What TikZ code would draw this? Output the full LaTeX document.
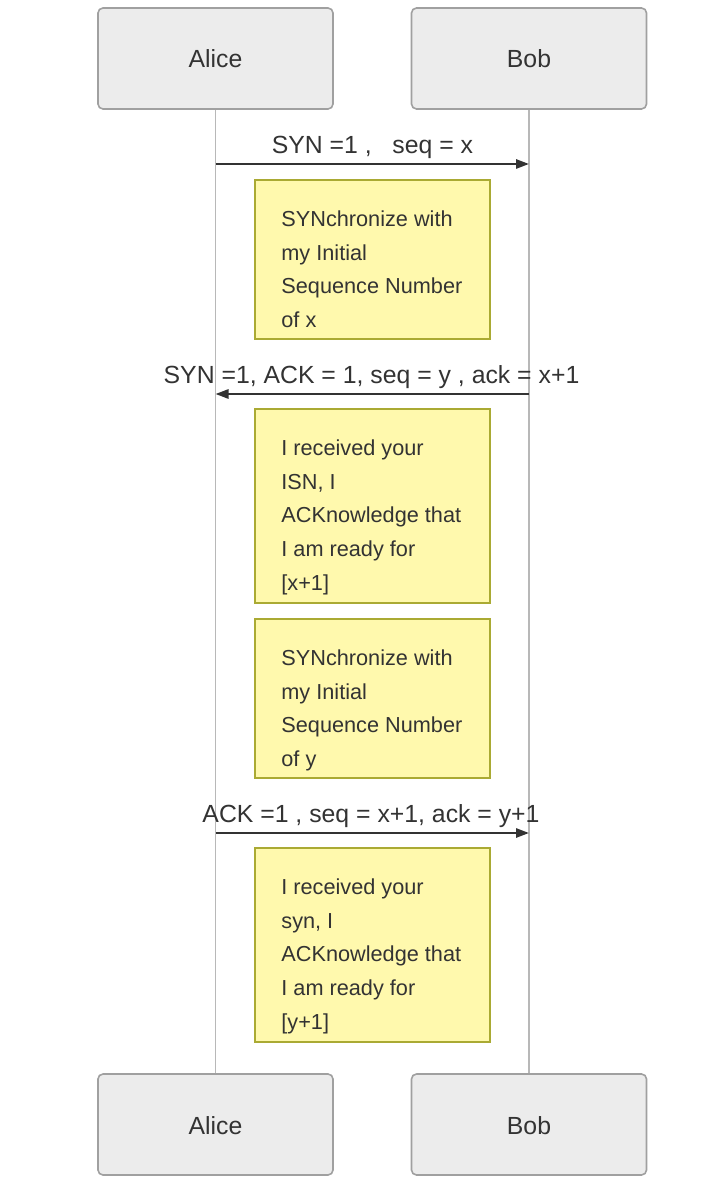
\documentclass[tikz,border=0pt]{standalone}
\usepackage{fontspec}
\setmainfont{Liberation Sans}
\usetikzlibrary{arrows.meta}
\definecolor{actfill}{HTML}{ECECEC}
\definecolor{actdraw}{HTML}{A0A0A0}
\definecolor{notefill}{HTML}{FFF9AD}
\definecolor{notedraw}{HTML}{AAAA33}
\definecolor{txt}{HTML}{333333}
\definecolor{life}{HTML}{B8B8B8}
\tikzset{
  actor/.style={draw=actdraw, fill=actfill, line width=0.8pt, rounded corners=2.5pt,
    minimum width=117.5pt, minimum height=50.5pt, inner sep=0pt},
  actortext/.style={anchor=base, font=\fontsize{12.4}{15}\selectfont, text=txt, inner sep=0pt},
  msgtext/.style={anchor=base, font=\fontsize{12.4}{15}\selectfont, text=txt, inner sep=0pt},
  notebox/.style={draw=notedraw, fill=notefill, line width=0.8pt, minimum width=117.5pt, inner sep=0pt},
  notetext/.style={anchor=north west, align=left, font=\fontsize{10.85}{16.8}\selectfont, text=txt, inner sep=0pt},
  lifeline/.style={draw=life, line width=0.7pt},
  msg/.style={draw=txt, line width=1.1pt, -{Triangle[length=6.5pt,width=4.6pt]}},
}
\begin{document}
\begin{tikzpicture}[x=0.5pt,y=-0.5pt]
\useasboundingbox (0,0) rectangle (720,1186);
% actors
\node[actor] (aliceT) at (215.5,58.5) {};
\node[actor] (bobT) at (529,58.5) {};
\node[actor] (aliceB) at (215.5,1124.5) {};
\node[actor] (bobB) at (529,1124.5) {};
% lifelines
\draw[lifeline] (aliceT.south) -- (aliceB.north);
\draw[lifeline] (bobT.south) -- (bobB.north);
% actor labels
\node[actortext] (aliceTt) at (215.5,68) {Alice};
\node[actortext] (bobTt) at (529,68) {Bob};
\node[actortext] (aliceBt) at (215.5,1134) {Alice};
\node[actortext] (bobBt) at (529,1134) {Bob};
% message 1
\coordinate (m1a) at (aliceT.south |- 0,164);
\coordinate (m1b) at (bobT.south |- 0,164);
\draw[msg] (m1a) -- (m1b);
\node[msgtext] (m1t) at (372.5,154) {SYN =1 ,\ \ \ seq = x};
% note 1
\node[notebox, minimum height=79.5pt] (n1) at (372.5,259.5) {};
\node[notetext] (n1t) at (281,210.5) {SYNchronize with\\my Initial\\Sequence Number\\of x};
% message 2
\coordinate (m2a) at (bobT.south |- 0,394);
\coordinate (m2b) at (aliceT.south |- 0,394);
\draw[msg] (m2a) -- (m2b);
\node[msgtext] (m2t) at (371.5,383.5) {SYN =1, ACK = 1, seq = y , ack = x+1};
% note 2
\node[notebox, minimum height=97pt] (n2) at (372.5,506) {};
\node[notetext] (n2t) at (281,439.5) {I received your\\ISN, I\\ACKnowledge that\\I am ready for\\{[x+1]}};
% note 3
\node[notebox, minimum height=79.5pt] (n3) at (372.5,698.5) {};
\node[notetext] (n3t) at (281,649.5) {SYNchronize with\\my Initial\\Sequence Number\\of y};
% message 3
\coordinate (m3a) at (aliceT.south |- 0,833);
\coordinate (m3b) at (bobT.south |- 0,833);
\draw[msg] (m3a) -- (m3b);
\node[msgtext] (m3t) at (371,822) {ACK =1 , seq = x+1, ack = y+1};
% note 4
\node[notebox, minimum height=97pt] (n4) at (372.5,945) {};
\node[notetext] (n4t) at (281,878.5) {I received your\\syn, I\\ACKnowledge that\\I am ready for\\{[y+1]}};
\end{tikzpicture}
\end{document}
